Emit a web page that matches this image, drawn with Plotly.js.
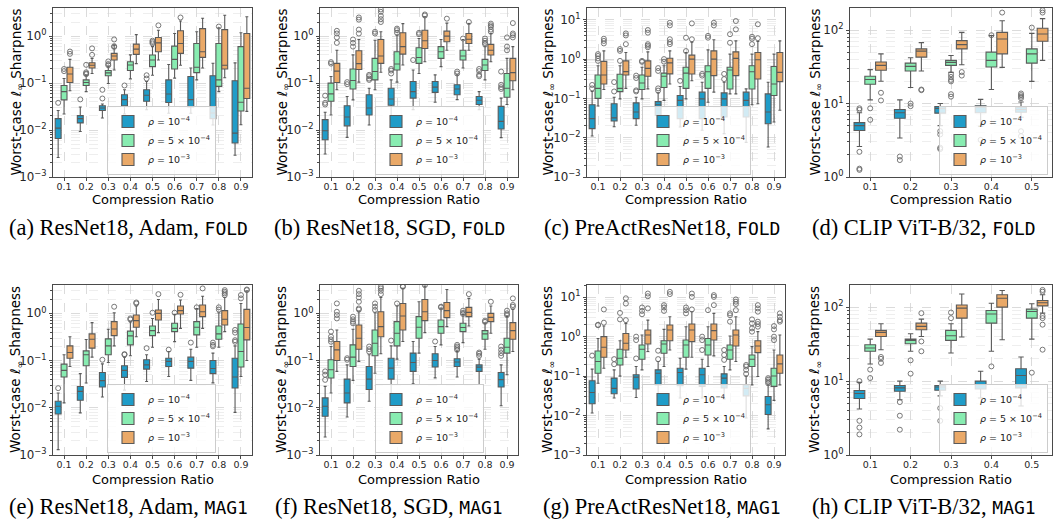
<!DOCTYPE html>
<html><head><meta charset="utf-8">
<script src="https://cdn.plot.ly/plotly-3.0.1.min.js"></script>
<style>html,body{margin:0;padding:0;background:#fff}</style>
</head><body><div id="chart" style="width:1058px;height:524px"></div>
<script>
const cats9 = ['0.1','0.2','0.3','0.4','0.5','0.6','0.7','0.8','0.9'];
const cats5 = ['0.1','0.2','0.3','0.4','0.5'];
const seriesNames = ['<i>ρ</i> = 10<sup>−4</sup>', '<i>ρ</i> = 5 × 10<sup>−4</sup>', '<i>ρ</i> = 10<sup>−3</sup>'];
const captionTexts = ['(a) ResNet18, Adam, ', '(b) ResNet18, SGD, ', '(c) PreActResNet18, ', '(d) CLIP ViT-B/32, ',
                      '(e) ResNet18, Adam, ', '(f) ResNet18, SGD, ', '(g) PreActResNet18, ', '(h) CLIP ViT-B/32, '];
const captionTags = ['FOLD','FOLD','FOLD','FOLD','MAG1','MAG1','MAG1','MAG1'];
const xTitle = 'Compression Ratio';
const yTitle = 'Worst-case <i>ℓ</i><sub>∞</sub> Sharpness';

// rows per category: [lower whisker, q1, median, q3, upper whisker]
const aBlue = [[0.0026,0.0066,0.011,0.0175,0.026],[0.0093,0.0142,0.0175,0.0203,0.031],[0.018,0.026,0.0295,0.033,0.036],[0.022,0.033,0.0444,0.0566,0.072],[0.027,0.041,0.055,0.072,0.108],[0.0228,0.0385,0.0585,0.117,0.25],[0.0228,0.031,0.0444,0.138,0.21],[0.0128,0.0175,0.023,0.143,0.265],[0.0029,0.0053,0.0086,0.112,0.27]];
const aBlueOut = [[0.038],[0.045],[0.072,0.047],[0.089],[0.147,0.125],[],[],[],[]];
const aGreen = [[0.022,0.044,0.066,0.089,0.125],[0.066,0.089,0.103,0.117,0.147],[0.098,0.144,0.165,0.185,0.23],[0.123,0.185,0.243,0.286,0.4],[0.147,0.224,0.31,0.396,0.6],[0.128,0.2,0.32,0.614,1.14],[0.117,0.167,0.217,0.7,1.24],[0.066,0.085,0.117,0.7,1.5],[0.013,0.0255,0.039,0.6,1.18]];
const aGreenOut = [[0.2,0.18],[0.245,0.17,0.16,0.155],[0.29,0.255,0.24],[],[0.8,0.75,0.7],[],[],[1.6],[]];
const aOrange = [[0.069,0.103,0.156,0.217,0.32],[0.16,0.21,0.24,0.272,0.335],[0.19,0.31,0.377,0.43,0.64],[0.26,0.41,0.53,0.677,1.08],[0.31,0.466,0.72,0.937,1.34],[0.24,0.43,0.7,1.3,2.1],[0.21,0.354,0.466,1.45,2.4],[0.13,0.2,0.24,1.38,2.8],[0.025,0.047,0.078,1.14,2.6]];
const aOrangeOut = [[0.47,0.42],[0.55,0.4],[0.85,0.61,0.59],[],[1.7],[2.5],[],[],[]];

const bBlue = [[0.0031,0.0062,0.0097,0.0167,0.024],[0.007,0.0123,0.019,0.033,0.052],[0.0128,0.021,0.0295,0.0566,0.078],[0.0195,0.0337,0.046,0.078,0.117],[0.0272,0.048,0.066,0.108,0.19],[0.039,0.0634,0.082,0.108,0.15],[0.0444,0.0566,0.075,0.092,0.15],[0.027,0.035,0.043,0.052,0.066],[0.0069,0.0105,0.0153,0.032,0.048]];
const bBlueOut = [[0.054,0.038,0.035],[0.105,0.095],[0.15,0.14,0.125,0.117],[0.2,0.185,0.16],[0.31],[],[0.176,0.16],[0.2,0.18,0.15,0.14],[0.176,0.092,0.082,0.075]];
const bGreen = [[0.021,0.041,0.059,0.1,0.138],[0.044,0.075,0.114,0.2,0.4],[0.072,0.117,0.177,0.337,0.82],[0.105,0.19,0.255,0.466,1.05],[0.16,0.263,0.35,0.566,0.89],[0.224,0.337,0.466,0.6,0.85],[0.21,0.31,0.377,0.5,0.85],[0.117,0.185,0.243,0.32,0.6],[0.035,0.05,0.078,0.16,0.337]];
const bGreenOut = [[0.28,0.26],[0.85,0.72,0.6],[1.24,1.14],[1.45,1.34,1.18],[1.18,1.1],[],[0.89],[0.89,0.8,0.72,0.68],[0.94,0.6,0.5]];
const bOrange = [[0.072,0.103,0.18,0.263,0.5],[0.105,0.195,0.26,0.49,0.85],[0.17,0.263,0.377,0.85,1.24],[0.243,0.415,0.6,1.18,1.85],[0.286,0.548,0.8,1.34,2.6],[0.5,0.76,1.0,1.28,1.9],[0.5,0.7,0.86,1.14,1.85],[0.286,0.396,0.5,0.67,1.14],[0.072,0.112,0.167,0.337,0.6]];
const bOrangeOut = [[1.3,1.14,0.94,0.72],[2.5,2.25,1.38,1.14],[3.7,3.3,2.7,2.3,2.0],[],[2.9,2.75],[2.36],[2.0],[1.85,1.7,1.58,1.38,1.24],[1.9,1.14,1.05,0.94]];

const cBlue = [[0.011,0.017,0.0305,0.069,0.15],[0.019,0.0266,0.032,0.073,0.107],[0.0207,0.0305,0.045,0.077,0.107],[0.0207,0.037,0.069,0.083,0.138],[0.0187,0.0305,0.089,0.118,0.2],[0.0155,0.0305,0.0975,0.144,0.257],[0.0127,0.0336,0.0975,0.138,0.257],[0.0076,0.0336,0.089,0.144,0.175],[0.0058,0.0227,0.045,0.13,0.257]];
const cBlueOut = [[0.22,0.18],[0.26,0.15],[0.38,0.33,0.16,0.15],[0.59,0.5,0.18,0.158],[0.28],[0.42,0.38],[0.42,0.31],[],[]];
const cGreen = [[0.064,0.1,0.18,0.394,0.68],[0.0975,0.149,0.18,0.41,0.68],[0.0975,0.168,0.247,0.394,0.62],[0.089,0.19,0.365,0.44,0.68],[0.0975,0.18,0.44,0.62,1.47],[0.08,0.18,0.478,0.68,1.72],[0.13,0.174,0.53,0.62,1.34],[0.069,0.174,0.478,0.68,1.34],[0.025,0.118,0.233,0.65,1.34]];
const cGreenOut = [[1.34,1.2,1.04,0.9],[1.8,1.62,0.9],[0.9,0.85],[1.0,0.86],[3.5,1.6],[3.9,3.5],[4.3,2.6],[3.7,3.3,2.4],[]];
const cOrange = [[0.168,0.233,0.394,0.873,1.62],[0.18,0.394,0.48,0.9,1.47],[0.175,0.365,0.58,0.9,1.53],[0.233,0.42,0.8,1.05,1.62],[0.28,0.417,1.0,1.26,2.7],[0.144,0.38,1.0,1.62,3.1],[0.13,0.38,1.04,1.53,2.9],[0.073,0.312,0.96,1.47,2.8],[0.05,0.267,0.46,1.47,2.9]];
const cOrangeOut = [[3.3,2.9,2.5],[4.5,4.0,2.4],[5.5,4.7,2.4,2.2,2.0],[8.4,7.2,3.2,2.7,2.4],[8.1,3.2],[8.4,7.2],[9.3,5.7],[7.7,3.4],[]];

const dBlue = [[2.6,4.3,5.0,5.5,7.5],[3.4,6.3,7.5,8.3,11.2],[5.0,7.4,8.6,9.1,10],[4.9,7.5,8.9,9.3,11.4],[6.5,7.6,8.3,8.9,10.5]];
const dBlueOut = [[8.6,8.2,2.2,1.3,1.25],[1.9,1.7],[4.2,3.8,2.5,2.4],[3.2],[13.7,13.0,12.4,11.8,4.2,3.6]];
const dGreen = [[11.2,18.3,21.2,23.5,28.9],[16.5,27.7,32,35.5,42],[26.5,33,36.3,38.6,45],[15.5,31.4,38.6,50,83.9],[20,35.5,47.4,55.4,90]];
const dGreenOut = [[8.6,6.0],[10,9.2],[25,23,21,20,13.4,12.4],[85],[108]];
const dOrange = [[20.1,28.4,33,36.7,47.4],[27.7,42.8,51.6,55.4,67.5],[33.7,55.4,63.4,71.8,93],[31,47.4,75.6,93,134],[38.6,70.4,88.4,106,143]];
const dOrangeOut = [[14,11],[15.5,15.2],[26.8,24],[173],[186,173]];

const eBlue = [[0.0013,0.0074,0.0108,0.0137,0.0205],[0.0078,0.0144,0.0223,0.0283,0.053],[0.0169,0.0276,0.0375,0.0559,0.085],[0.0236,0.044,0.062,0.0775,0.118],[0.036,0.066,0.081,0.104,0.133],[0.046,0.075,0.096,0.112,0.155],[0.038,0.069,0.096,0.118,0.174],[0.0336,0.0528,0.068,0.1,0.144],[0.008,0.0263,0.045,0.112,0.205]];
const eBlueOut = [[0.026],[],[0.104],[0.137,0.133],[0.183],[0.17],[0.24],[0.24,0.215,0.2],[0.445,0.39,0.27,0.25]];
const eGreen = [[0.0127,0.045,0.062,0.084,0.133],[0.0335,0.0775,0.133,0.16,0.28],[0.091,0.133,0.205,0.288,0.46],[0.126,0.215,0.333,0.42,0.66],[0.192,0.338,0.43,0.54,0.78],[0.252,0.41,0.48,0.615,0.95],[0.192,0.349,0.507,0.667,1.27],[0.192,0.283,0.367,0.54,1.03],[0.046,0.073,0.155,0.595,1.62]];
const eGreenOut = [[],[],[],[0.78,0.74],[1.03],[1.03],[1.34],[1.34,1.2],[2.44,2.07]];
const eOrange = [[0.075,0.112,0.148,0.205,0.32],[0.118,0.183,0.283,0.367,0.635],[0.205,0.338,0.467,0.667,1.03],[0.32,0.507,0.7,0.92,1.43],[0.39,0.72,1.0,1.18,1.97],[0.48,0.968,1.14,1.43,1.91],[0.48,0.85,1.08,1.5,2.3],[0.41,0.567,0.747,1.14,2.17],[0.1,0.274,0.5,1.21,3.0]];
const eOrangeOut = [[],[],[1.38],[1.7,1.62],[2.55],[2.47],[3.37],[3.1,2.86,2.64,2.43],[3.2,3.1]];

const fBlue = [[0.0024,0.0066,0.0108,0.0162,0.0284],[0.0064,0.0127,0.0205,0.0405,0.081],[0.0137,0.0244,0.0405,0.075,0.133],[0.0191,0.0405,0.069,0.112,0.205],[0.032,0.059,0.091,0.144,0.253],[0.043,0.073,0.1,0.139,0.198],[0.045,0.075,0.093,0.109,0.155],[0.031,0.059,0.0725,0.081,0.107],[0.011,0.0276,0.0394,0.0559,0.081]];
const fBlueOut = [[0.059,0.05,0.039],[0.112,0.104],[0.198,0.174,0.155],[0.265],[],[0.253],[0.215,0.198,0.183,0.168],[0.148,0.139,0.126],[0.198,0.168,0.144,0.126]];
const fGreen = [[0.0205,0.0428,0.064,0.104,0.198],[0.038,0.075,0.118,0.215,0.46],[0.054,0.126,0.233,0.445,1.03],[0.107,0.205,0.378,0.667,1.43],[0.144,0.297,0.507,0.85,1.76],[0.215,0.378,0.523,0.72,1.3],[0.24,0.41,0.5,0.615,0.95],[0.174,0.283,0.367,0.43,0.62],[0.05,0.144,0.192,0.297,0.85]];
const fGreenOut = [[0.41,0.32,0.28,0.25],[0.85,0.747,0.667,0.615],[1.62,1.38,1.18],[1.62],[],[1.38,1.34],[1.14,1.03,0.97],[0.7,0.66],[1.14,1.0,0.92]];
const fOrange = [[0.059,0.1,0.168,0.253,0.445],[0.096,0.174,0.297,0.567,1.08],[0.139,0.32,0.523,1.08,2.17],[0.253,0.445,0.88,1.62,3.37],[0.39,0.7,1.08,1.97,3.77],[0.523,0.81,1.14,1.7,3.2],[0.54,0.85,1.05,1.34,2.07],[0.378,0.667,0.82,1.0,1.43],[0.155,0.283,0.43,0.635,1.21]];
const fOrangeOut = [[1.62,1.08,0.92,0.78],[3.0,2.55,2.17,1.76,1.27,1.2],[3.65,3.37,3.0,2.55],[3.77,3.65],[3.95],[],[2.55],[1.76],[2.07,1.5,1.38]];

const gBlue = [[0.0116,0.02,0.0385,0.076,0.15],[0.0278,0.0358,0.049,0.089,0.144],[0.0287,0.047,0.094,0.108,0.175],[0.0316,0.06,0.118,0.144,0.234],[0.0278,0.057,0.123,0.158,0.284],[0.0278,0.055,0.108,0.158,0.268],[0.0262,0.05,0.089,0.114,0.175],[0.0087,0.0316,0.049,0.06,0.1],[0.0046,0.0106,0.0188,0.0305,0.06]];
const gBlueOut = [[0.33],[0.27,0.2],[1.0,0.82,0.28],[0.44,0.27],[],[1.0,0.82,0.46],[0.46,0.344,0.258],[0.192,0.175,0.144,0.114],[0.089,0.081,0.073,0.066]];
const gGreen = [[0.066,0.118,0.234,0.434,0.9],[0.1,0.192,0.284,0.478,0.79],[0.144,0.268,0.478,0.616,1.1],[0.175,0.38,0.65,0.79,1.53],[0.15,0.3,0.616,0.82,1.79],[0.175,0.344,0.616,0.9,1.79],[0.144,0.268,0.46,0.616,1.04],[0.06,0.175,0.268,0.344,0.56],[0.0243,0.055,0.101,0.158,0.46]];
const gGreenOut = [[2.0,1.95],[4.0,2.74],[5.5,4.5,3.7],[6.3,5.5,4.5],[5.5,4.7,3.9],[4.7],[3.9,3.5,2.4],[2.74,2.17,1.62,1.34],[1.86,1.53,1.0,0.82]];
const gOrange = [[0.158,0.3,0.54,1.0,1.86],[0.3,0.46,0.68,1.2,2.17],[0.42,0.65,1.1,1.47,2.63],[0.46,0.79,1.47,1.97,3.2],[0.3,0.75,1.47,2.09,4.3],[0.325,0.82,1.42,2.09,3.9],[0.234,0.58,1.1,1.47,3.2],[0.098,0.394,0.58,0.79,1.34],[0.06,0.118,0.204,0.344,1.1]];
const gOrangeOut = [[4.9,2.26],[9.4,6.9,2.63],[12.4,10.6,5.2],[13.7,12.0],[12.4,10.2,4.9],[11.3,10.2,6.3],[8.8,7.7,6.7,4.7],[6.3,5.2,4.3,2.4,2.09,1.79],[3.9,3.2,2.63,2.4]];

const hBlue = [[4.2,5.8,6.8,7.45,9.6],[5.6,7.3,8.1,8.7,10],[6.3,7.5,8.3,8.7,10],[5.9,7.8,9.0,10,13.6],[4.6,8.1,11.9,14.7,21.2]];
const hBlueOut = [[10,2.9,2.35,1.9],[5.2,3.4,2.2],[4.3,2.9],[],[]];
const hGreen = [[17,25.3,28,31,37],[25.3,32,35.5,37,43.7],[24,35.5,41.1,48.5,59.6],[25.3,60.8,81,90,113],[37,71,87.4,94,111]];
const hGreenOut = [[14.3,11],[19.1,12.6],[84.7,71],[15.8],[13]];
const hOrange = [[26.6,40.2,45.6,48.5,59.6],[40.2,49.5,54.9,60.8,68.9],[39.4,71,97,107,151],[36.3,100,132,147,168],[83,104,115,123,147]];
const hOrangeOut = [[21.2,20,17.6],[83,34.4,25.3],[],[],[171,162,76,71,58,26.6]];

const yRanges = [[-3,0.6],[-3,0.6],[-3,1.3],[0,2.3],[-3,0.6],[-3,0.6],[-3,1.31],[0,2.3]];

const panels = [
  {cats:cats9, stats:[aBlue,aGreen,aOrange], outs:[aBlueOut,aGreenOut,aOrangeOut]},
  {cats:cats9, stats:[bBlue,bGreen,bOrange], outs:[bBlueOut,bGreenOut,bOrangeOut]},
  {cats:cats9, stats:[cBlue,cGreen,cOrange], outs:[cBlueOut,cGreenOut,cOrangeOut]},
  {cats:cats5, stats:[dBlue,dGreen,dOrange], outs:[dBlueOut,dGreenOut,dOrangeOut]},
  {cats:cats9, stats:[eBlue,eGreen,eOrange], outs:[eBlueOut,eGreenOut,eOrangeOut]},
  {cats:cats9, stats:[fBlue,fGreen,fOrange], outs:[fBlueOut,fGreenOut,fOrangeOut]},
  {cats:cats9, stats:[gBlue,gGreen,gOrange], outs:[gBlueOut,gGreenOut,gOrangeOut]},
  {cats:cats5, stats:[hBlue,hGreen,hOrange], outs:[hBlueOut,hGreenOut,hOrangeOut]}
];

// ---- styling / geometry ----
const W = 1058, H = 524;
const fills = ['#1f9cc8', '#88ecb1', '#eaa968'];
const lineCol = '#5a5a5a';
const colPx = [[53,252],[320,518],[587,785],[850,1052]];
const rowPx = [[8,177],[285,455]];
// legend anchor point (px, bottom edge) and horizontal side
const legendPx = [[107,175,'left'],[375,175,'left'],[642,175,'left'],[1048,175,'right'],
                  [107,453,'left'],[375,453,'left'],[642,453,'left'],[1048,453,'right']];
const yTitleX = [16,282,548,815];
const xTitleY = [200,479];
const captionX = [128,389,662,924];
const captionY = [227,506];

const traces = [];
const layout = {
  width: W, height: H, margin:{l:0,r:0,t:0,b:0},
  paper_bgcolor:'#fff', plot_bgcolor:'#fff',
  boxmode:'group', boxgap:0.2, boxgroupgap:0,
  scattermode:'group', scattergap:0.2,
  font:{family:'DejaVu Sans', color:'#222'},
  annotations: [], hovermode:false
};

panels.forEach((p, i) => {
  const n = i + 1, sfx = n === 1 ? '' : String(n);
  const col = i % 4, row = Math.floor(i / 4);
  const legKey = 'legend' + sfx;
  p.stats.forEach((rows, k) => {
    traces.push({
      type:'box', xaxis:'x'+sfx, yaxis:'y'+sfx, x:p.cats,
      lowerfence: rows.map(r=>r[0]), q1: rows.map(r=>r[1]), median: rows.map(r=>r[2]),
      q3: rows.map(r=>r[3]), upperfence: rows.map(r=>r[4]),
      name: seriesNames[k], legend: legKey, fillcolor: fills[k],
      alignmentgroup:'box'+n, offsetgroup:'bx'+k,
      line:{color:lineCol, width:1.1}, whiskerwidth:0.5, boxpoints:false, hoverinfo:'skip'
    });
  });
  p.outs.forEach((lists, k) => {
    const xs = [], ys = [];
    lists.forEach((vals, ci) => vals.forEach(v => { xs.push(p.cats[ci]); ys.push(v); }));
    traces.push({
      type:'scatter', mode:'markers', xaxis:'x'+sfx, yaxis:'y'+sfx, x:xs, y:ys,
      alignmentgroup:'out'+n, offsetgroup:'ou'+k, showlegend:false, hoverinfo:'skip',
      marker:{symbol:'circle-open', size:5, color:'#6a6a6a', line:{width:0.9}}
    });
  });
  const xd = [colPx[col][0]/W, colPx[col][1]/W];
  const yd = [1 - rowPx[row][1]/H, 1 - rowPx[row][0]/H];
  layout['xaxis'+sfx] = {
    domain:xd, anchor:'y'+sfx, type:'category', categoryorder:'array', categoryarray:p.cats,
    range:[-0.5, p.cats.length-0.5], showgrid:true, gridcolor:'#d2d2d2', griddash:'dash', gridwidth:0.8,
    showline:true, mirror:true, linecolor:'#4a4a4a', linewidth:1, zeroline:false,
    ticks:'outside', ticklen:3, tickcolor:'#4a4a4a', ticklabelstandoff:-2,
    tickfont:{family:'DejaVu Sans', size:9.5, color:'#262626'}
  };
  layout['yaxis'+sfx] = {
    domain:yd, anchor:'x'+sfx, type:'log', range:yRanges[i],
    tickmode:'linear', tick0:0, dtick:1, exponentformat:'power',
    labelalias:{'1':'10<sup>0</sup>', '10':'10<sup>1</sup>'},
    showgrid:true, gridcolor:'#d2d2d2', griddash:'dash', gridwidth:0.8,
    minor:{dtick:'D1', showgrid:true, gridcolor:'#e2e2e2', griddash:'dash', gridwidth:0.6, ticks:'outside', ticklen:2, tickcolor:'#4a4a4a'},
    showline:true, mirror:true, linecolor:'#4a4a4a', linewidth:1, zeroline:false,
    ticks:'outside', ticklen:3.5, tickcolor:'#4a4a4a', tickfont:{family:'DejaVu Sans', size:9.5, color:'#262626'}
  };
  layout[legKey] = {
    x: legendPx[i][0]/W, y: 1 - legendPx[i][1]/H, xanchor:legendPx[i][2], yanchor:'bottom',
    bgcolor:'rgba(255,255,255,0.8)', bordercolor:'#cccccc', borderwidth:1,
    font:{family:'DejaVu Sans', size:9.5, color:'#222'}, itemwidth:30, tracegroupgap:0
  };
  layout.annotations.push({
    xref:'paper', yref:'paper', x:yTitleX[col]/W, y:1 - (rowPx[row][0]+rowPx[row][1])/2/H,
    xanchor:'center', yanchor:'middle', textangle:-90, showarrow:false,
    text:yTitle, font:{family:'DejaVu Sans', size:13.5, color:'#000'}
  });
  layout.annotations.push({
    xref:'paper', yref:'paper', x:(colPx[col][0]+colPx[col][1])/2/W, y:1 - xTitleY[row]/H,
    xanchor:'center', yanchor:'middle', showarrow:false,
    text:xTitle, font:{family:'DejaVu Sans', size:13, color:'#000'}
  });
  layout.annotations.push({
    xref:'paper', yref:'paper', x:captionX[col]/W, y:1 - captionY[row]/H,
    xanchor:'center', yanchor:'middle', showarrow:false,
    text: captionTexts[i] + '<span style="font-family:DejaVu Sans Mono;font-size:18px">' + captionTags[i] + '</span>',
    font:{family:'Liberation Serif', size:22.5, color:'#000'}
  });
});

Plotly.newPlot('chart', traces, layout, {displayModeBar:false, staticPlot:true});
</script></body></html>
